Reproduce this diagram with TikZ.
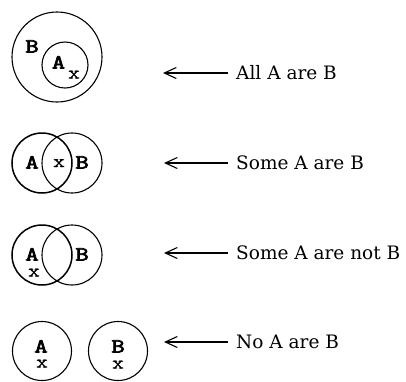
\documentclass[tikz,border=0pt]{standalone}
\usepackage{fontspec}
\usepackage{graphicx}
\setmainfont{DejaVu Serif}
\newfontfamily\labfont{Latin Modern Mono}[FakeBold=3]
\newfontfamily\elemfont{Latin Modern Mono}[FakeBold=0.3]
\newcommand{\lb}[1]{\scalebox{1.3}[1]{#1}}
\usetikzlibrary{arrows.meta}
\begin{document}
\begin{tikzpicture}[x=1pt,y=-1pt,
  set/.style={circle,draw,line width=1.1pt,inner sep=0pt},
  setthick/.style={set,line width=1.5pt},
  lab/.style={font=\labfont\fontsize{20}{20}\selectfont,inner sep=0pt,anchor=base,text height=12pt,text depth=0pt},
  elem/.style={font=\elemfont\fontsize{18}{18}\selectfont,inner sep=0pt,anchor=base,text height=8pt,text depth=0pt},
  stmt/.style={font=\fontsize{18.5}{18.5}\selectfont,anchor=west,inner sep=0pt},
  arr/.style={-{Straight Barb[length=12pt,width=11pt]},line width=1.1pt}]
\useasboundingbox (0,0) rectangle (406,381);
% panel 1
\node[set,minimum size=90pt] (B1) at (57,57) {};
\node[set,minimum size=46pt] (A1) at (65,65) {};
\node[lab] (lB1) at (32,52.5) {\lb{B}};
\node[lab] (lA1) at (58.5,68.5) {\lb{A}};
\node[elem] (x1) at (74,78.5) {\lb{x}};
% panel 2
\node[setthick,minimum size=60pt] (A2) at (42,163) {};
\node[set,minimum size=60pt] (B2) at (72,163) {};
\node[lab] (lA2) at (32,168.5) {\lb{A}};
\node[elem] (x2) at (59,167) {\lb{x}};
\node[lab] (lB2) at (82,168.5) {\lb{B}};
% panel 3
\node[setthick,minimum size=60pt] (A3) at (42,255) {};
\node[set,minimum size=60pt] (B3) at (72,255) {};
\node[lab] (lA3) at (32,260.5) {\lb{A}};
\node[elem] (x3) at (34,276.5) {\lb{x}};
\node[lab] (lB3) at (82,260.5) {\lb{B}};
% panel 4
\node[set,minimum size=59pt] (A4) at (42,351) {};
\node[set,minimum size=59pt] (B4) at (118,351) {};
\node[lab] (lA4) at (41,352.5) {\lb{A}};
\node[elem] (x4) at (42,367.5) {\lb{x}};
\node[lab] (lB4) at (118,352.5) {\lb{B}};
\node[elem] (y4) at (118,368.5) {\lb{x}};
% statements
\node[stmt] (s1) at (236,73) {All A are B};
\node[stmt] (s2) at (236,163) {Some A are B};
\node[stmt] (s3) at (236,253) {Some A are not B};
\node[stmt] (s4) at (236,342) {No A are B};
\coordinate (t1) at (163,73);
\coordinate (t2) at (164,163);
\coordinate (t3) at (164,253);
\coordinate (t4) at (164,342);
\draw[arr] ([xshift=-8pt]s1.west) -- (t1);
\draw[arr] ([xshift=-8pt]s2.west) -- (t2);
\draw[arr] ([xshift=-8pt]s3.west) -- (t3);
\draw[arr] ([xshift=-8pt]s4.west) -- (t4);
\end{tikzpicture}
\end{document}
